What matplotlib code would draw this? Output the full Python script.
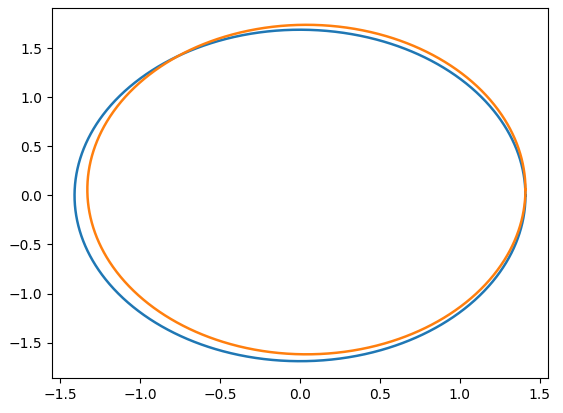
import numpy as np
import matplotlib.pyplot as plt

# orbit shapes: centre x, centre y, half-width, half-height
orbit_names = ['first', 'second']
centre_x = [0.0, 0.04]
centre_y = [0.0, 0.06]
half_w = [1.41, 1.37]
half_h = [1.69, 1.68]
colors = ['#1f77b4', '#ff7f0e']

fig = plt.figure(figsize=(5.63, 4.13), dpi=100)
ax = fig.add_axes([52 / 563, 35 / 413, 496 / 563, 370 / 413])

t = np.linspace(0, 2 * np.pi, 2000)
for i in range(len(orbit_names)):
    x = centre_x[i] + half_w[i] * np.cos(t)
    y = centre_y[i] + half_h[i] * np.sin(t)
    ax.plot(x, y, color=colors[i], linewidth=1.8)

ax.set_xticks([-1.5, -1.0, -0.5, 0.0, 0.5, 1.0, 1.5])
ax.set_yticks([-1.5, -1.0, -0.5, 0.0, 0.5, 1.0, 1.5])

fig.savefig('out.png')
